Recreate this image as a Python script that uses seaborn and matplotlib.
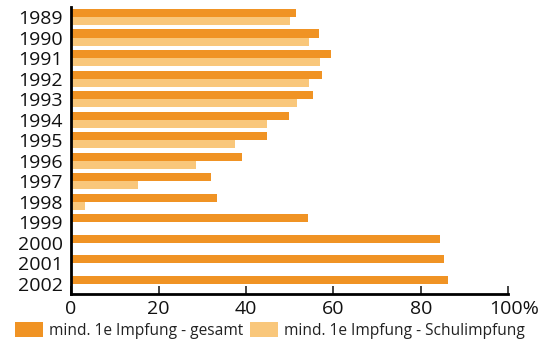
import matplotlib
matplotlib.use("Agg")
import matplotlib.pyplot as plt
import matplotlib.transforms as mtransforms
import seaborn as sns
import pandas as pd
import numpy as np

years = ["1989", "1990", "1991", "1992", "1993", "1994", "1995", "1996",
         "1997", "1998", "1999", "2000", "2001", "2002"]
gesamt = [51.4, 56.7, 59.4, 57.4, 55.3, 49.8, 44.8, 39.1, 32.0, 33.4, 54.2, 84.3, 85.3, 86.2]
schul = [50.0, 54.4, 57.0, 54.4, 51.7, 44.8, 37.5, 28.6, 15.3, 3.2, np.nan, np.nan, np.nan, np.nan]
series = ["mind. 1e Impfung - gesamt", "mind. 1e Impfung - Schulimpfung"]
colors = ["#F09324", "#F9C77B"]
xticks = [0, 20, 40, 60, 80, 100]
xticklabels = ["0", "20", "40", "60", "80", "100%"]

df = pd.DataFrame({
    "Jahr": years * 2,
    "Wert": gesamt + schul,
    "Serie": [series[0]] * len(years) + [series[1]] * len(years),
})

sns.set_theme(style="white")
plt.rcParams["font.family"] = ["Open Sans", "DejaVu Sans"]

fig = plt.figure(figsize=(5.47, 3.46), dpi=100)
ax = fig.add_axes([0.13, 0.15, 0.799, 0.83])

sns.barplot(data=df, y="Jahr", x="Wert", hue="Serie", order=years,
            hue_order=series, palette=colors, orient="y", width=0.8,
            saturation=1, linewidth=0, ax=ax, legend=True)

ax.set_xlim(0, 100)
ax.set_xticks(xticks)
ax.set_xticklabels(xticklabels, fontsize=14)
ax.set_xlabel("")
ax.set_ylabel("")
ax.tick_params(axis="x", direction="in", length=6, width=1.2, color="#222222",
               pad=4, labelcolor="#111111", bottom=True)
ax.tick_params(axis="y", length=0, pad=6, labelsize=14, labelcolor="#111111")
# shift "100%" so that the number sits centred on its tick
last = ax.get_xticklabels()[-1]
last.set_transform(last.get_transform() +
                   mtransforms.ScaledTranslation(6 / 100, 0, fig.dpi_scale_trans))
for s in ["top", "right"]:
    ax.spines[s].set_visible(False)
for s in ["left", "bottom"]:
    ax.spines[s].set_visible(True)
    ax.spines[s].set_color("#000000")
    ax.spines[s].set_linewidth(2)

handles, labels = ax.get_legend_handles_labels()
ax.get_legend().remove()
fig.legend(handles, labels, loc="lower left", bbox_to_anchor=(15 / 547, 0.02),
           ncol=2, frameon=False, fontsize=11.2, handlelength=1.8,
           handleheight=1.1, handletextpad=0.38, columnspacing=0.45,
           borderaxespad=0, borderpad=0, labelcolor="#222222")

fig.savefig("out.png", dpi=100)
